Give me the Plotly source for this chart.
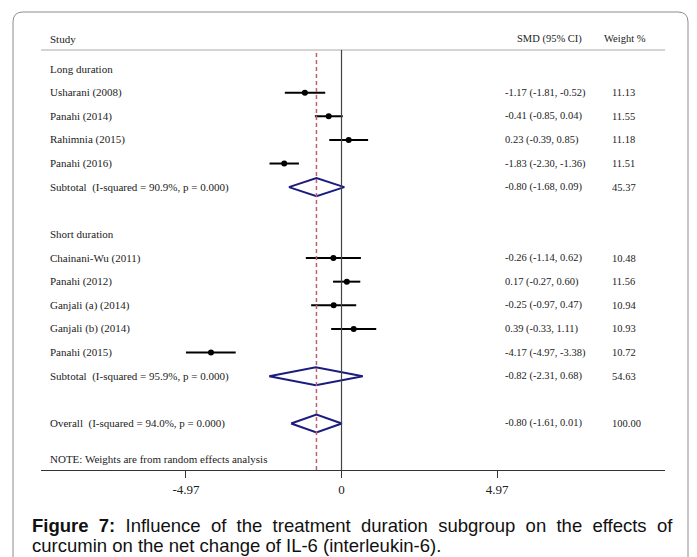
import plotly.graph_objects as go

# ---------------- data ----------------
groups = ["Long duration", "Short duration"]
studies = ["Usharani (2008)", "Panahi (2014)", "Rahimnia (2015)", "Panahi (2016)",
           "Chainani-Wu (2011)", "Panahi (2012)", "Ganjali (a) (2014)", "Ganjali (b) (2014)",
           "Panahi (2015)"]
study_group = [0, 0, 0, 0, 1, 1, 1, 1, 1]
smd = [-1.17, -0.41, 0.23, -1.83, -0.26, 0.17, -0.25, 0.39, -4.17]
ci_lo = [-1.81, -0.85, -0.39, -2.30, -1.14, -0.27, -0.97, -0.33, -4.97]
ci_hi = [-0.52, 0.04, 0.85, -1.36, 0.62, 0.60, 0.47, 1.11, -3.38]
weight = [11.13, 11.55, 11.18, 11.51, 10.48, 11.56, 10.94, 10.93, 10.72]

sub_labels = ["Subtotal  (I-squared = 90.9%, p = 0.000)",
              "Subtotal  (I-squared = 95.9%, p = 0.000)"]
sub_smd = [-0.80, -0.82]
sub_lo = [-1.68, -2.31]
sub_hi = [0.09, 0.68]
sub_w = [45.37, 54.63]

overall_label = "Overall  (I-squared = 94.0%, p = 0.000)"
overall_smd = -0.80
overall_lo = -1.61
overall_hi = 0.01
overall_w = 100.00

tick_vals = [-4.97, 0, 4.97]
tick_text = ["-4.97", "0", "4.97"]

note = "NOTE: Weights are from random effects analysis"
caption1 = "<b>Figure\u00a0\u00a07:</b>\u00a0\u00a0Influence\u00a0\u00a0of\u00a0\u00a0the\u00a0\u00a0treatment\u00a0\u00a0duration\u00a0\u00a0subgroup\u00a0\u00a0on\u00a0\u00a0the\u00a0\u00a0effects\u00a0\u00a0of"
caption2 = "curcumin on the net change of IL-6 (interleukin-6)."

# ---------------- layout geometry ----------------
W, H = 697, 557
L, R, T, B = 41, 665, 50, 470   # plot area in pixels
def px(xp):
    return (xp - L) / (R - L)
def py(yp):
    return (B - yp) / (B - T)

# build rows
rows = []  # (kind, payload, row_index)
r = 1
label_rows = []
for g, gname in enumerate(groups):
    label_rows.append((gname, r)); r += 1
    for i in range(len(studies)):
        if study_group[i] == g:
            rows.append(("study", i, r)); r += 1
    rows.append(("sub", g, r)); r += 1
    r += 1  # blank row
rows.append(("overall", None, r)); r += 1
note_row = r + 0.5

SERIF = "Liberation Serif, Times New Roman, serif"
SANS = "Liberation Sans, Arial, sans-serif"
TXT = "#222222"
NAVY = "#1c1c80"

fig = go.Figure()

# study estimates with CIs
sx, sy, ep, em = [], [], [], []
for kind, i, rr in rows:
    if kind == "study":
        sx.append(smd[i]); sy.append(rr)
        ep.append(ci_hi[i] - smd[i]); em.append(smd[i] - ci_lo[i])
fig.add_trace(go.Scatter(
    x=sx, y=sy, mode="markers",
    marker=dict(color="black", size=6, symbol="circle"),
    error_x=dict(type="data", symmetric=False, array=ep, arrayminus=em,
                 width=0, thickness=2, color="black"),
    showlegend=False, hoverinfo="skip"))

# diamonds
half_h = 0.38
dia = []
for kind, g, rr in rows:
    if kind == "sub":
        dia.append((sub_smd[g], sub_lo[g], sub_hi[g], rr))
    elif kind == "overall":
        dia.append((overall_smd, overall_lo, overall_hi, rr))
for m, lo, hi, rr in dia:
    fig.add_trace(go.Scatter(
        x=[lo, m, hi, m, lo], y=[rr, rr - half_h, rr, rr + half_h, rr],
        mode="lines", fill="toself", fillcolor="white",
        line=dict(color=NAVY, width=2), showlegend=False, hoverinfo="skip"))

ann = []
def txt(x, y, s, size=11, xref="paper", yref="y", family=SERIF, color=TXT, **kw):
    ann.append(dict(x=x, y=y, xref=xref, yref=yref, text=s, showarrow=False,
                    xanchor="left", yanchor="middle",
                    font=dict(family=family, size=size, color=color), **kw))

# header
txt(px(48), py(39), "Study", yref="paper")
txt(px(515), py(39), "SMD (95% CI)", yref="paper", size=10.5)
txt(px(602), py(38), "Weight %", yref="paper", size=10.5)

for gname, rr in label_rows:
    txt(px(48), rr, gname)
for kind, i, rr in rows:
    if kind == "study":
        txt(px(48), rr, studies[i])
        txt(px(503), rr, f"{smd[i]:.2f} ({ci_lo[i]:.2f}, {ci_hi[i]:.2f})", size=10.5)
        txt(px(610), rr, f"{weight[i]:.2f}", size=10.5)
    elif kind == "sub":
        txt(px(48), rr, sub_labels[i])
        txt(px(503), rr, f"{sub_smd[i]:.2f} ({sub_lo[i]:.2f}, {sub_hi[i]:.2f})", size=10.5)
        txt(px(610), rr, f"{sub_w[i]:.2f}", size=10.5)
    else:
        txt(px(48), rr, overall_label)
        txt(px(503), rr, f"{overall_smd:.2f} ({overall_lo:.2f}, {overall_hi:.2f})", size=10.5)
        txt(px(610), rr, f"{overall_w:.2f}", size=10.5)
txt(px(48), note_row, note)

# caption
txt(px(30), py(525), caption1, yref="paper", size=18.5, family=SANS, color="#111111")
txt(px(30), py(545), caption2, yref="paper", size=18.5, family=SANS, color="#111111")

# shapes
shapes = []
# frame with rounded top corners
x0, x1, y0, y1, rad = 13, 688, 12, 600, 10
def P(xp, yp):
    return f"{px(xp):.5f},{py(yp):.5f}"
path = (f"M {P(x0, y1)} L {P(x0, y0 + rad)} Q {P(x0, y0)} {P(x0 + rad, y0)} "
        f"L {P(x1 - rad, y0)} Q {P(x1, y0)} {P(x1, y0 + rad)} L {P(x1, y1)}")
shapes.append(dict(type="path", xref="paper", yref="paper", path=path,
                   line=dict(color="#8c8c8c", width=1)))
# header rule
shapes.append(dict(type="line", xref="paper", yref="paper", x0=0, x1=1, y0=1, y1=1,
                   line=dict(color="#d4d4d4", width=2)))
# zero line
shapes.append(dict(type="line", xref="x", yref="paper", x0=0, x1=0, y0=0, y1=1,
                   line=dict(color="#444444", width=1.2)))
# overall effect dashed line
shapes.append(dict(type="line", xref="x", yref="paper", x0=overall_smd, x1=overall_smd,
                   y0=0, y1=1, line=dict(color="#c0606e", width=1.5, dash="4px,3px")))

zero_px = 341.5
ppu = 31.3
fig.update_layout(
    width=W, height=H,
    margin=dict(l=L, r=W - R, t=T, b=H - B),
    paper_bgcolor="white", plot_bgcolor="white",
    xaxis=dict(range=[(L - zero_px) / ppu, (R - zero_px) / ppu],
               showgrid=False, zeroline=False, showline=True,
               linecolor="#333333", linewidth=1,
               ticks="outside", ticklen=7, tickcolor="#333333",
               tickvals=tick_vals, ticktext=tick_text,
               tickfont=dict(family=SERIF, size=13, color=TXT), fixedrange=True),
    yaxis=dict(range=[1 + (B - 69) / 23.63, 1 + (T - 69) / 23.63], visible=False,
               fixedrange=True),
    annotations=ann, shapes=shapes, showlegend=False,
)

fig.write_html("out.html", config={"displayModeBar": False})
